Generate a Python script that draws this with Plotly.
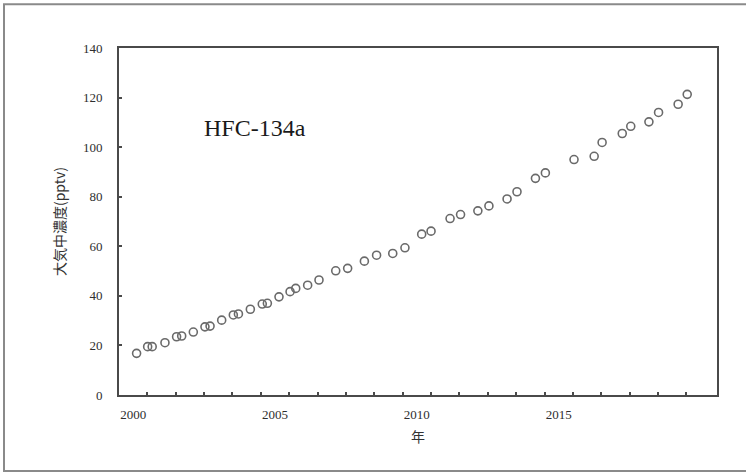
import plotly.graph_objects as go

years = [2000.12, 2000.51, 2000.67, 2001.12, 2001.53, 2001.71, 2002.12, 2002.53, 2002.71,
         2003.12, 2003.53, 2003.71, 2004.13, 2004.55, 2004.73, 2005.14, 2005.53, 2005.73,
         2006.15, 2006.55, 2007.14, 2007.56, 2008.15, 2008.58, 2009.15, 2009.58, 2010.17,
         2010.50, 2011.17, 2011.54, 2012.15, 2012.54, 2013.18, 2013.53, 2014.18, 2014.53,
         2015.54, 2016.25, 2016.53, 2017.24, 2017.54, 2018.18, 2018.52, 2019.21, 2019.53]
conc = [16.8, 19.5, 19.5, 21.1, 23.5, 23.8, 25.4, 27.5, 27.8,
        30.2, 32.3, 32.7, 34.6, 36.7, 37.0, 39.6, 41.7, 43.0,
        44.3, 46.4, 50.1, 51.1, 54.0, 56.4, 57.1, 59.4, 64.9,
        66.1, 71.2, 72.8, 74.3, 76.3, 79.1, 82.0, 87.4, 89.6,
        95.0, 96.3, 101.9, 105.5, 108.4, 110.2, 114.0, 117.3, 121.3]

x_label_vals = [2000, 2005, 2010, 2015]
x_label_text = ["2000", "2005", "2010", "2015"]
x_minor_vals = [2000.5 + i for i in range(20)]
y_tick_vals = [0, 20, 40, 60, 80, 100, 120, 140]

fig = go.Figure()
fig.add_trace(go.Scatter(
    x=years, y=conc, mode="markers",
    marker=dict(symbol="circle-open", size=8, color="#6a6a6a", line=dict(width=1.6, color="#6a6a6a")),
    showlegend=False, hoverinfo="skip",
))

axis_col = "#4a4a4a"
tick_font = dict(family="Liberation Serif, Times New Roman, serif", size=13, color="#2e2e2e")

fig.update_layout(
    width=746, height=473,
    margin=dict(l=119, r=29, t=48, b=78),
    paper_bgcolor="white", plot_bgcolor="white",
    xaxis=dict(
        range=[1999.5, 2020.58],
        tickmode="array", tickvals=x_label_vals, ticktext=x_label_text,
        ticks="", showgrid=False, zeroline=False,
        showline=True, linecolor=axis_col, linewidth=1.8, mirror=True,
        tickfont=tick_font, ticklabelstandoff=6,
        minor=dict(tickmode="array", tickvals=x_minor_vals, ticks="inside", ticklen=3,
                   tickwidth=1.5, tickcolor=axis_col, showgrid=False),
        title=dict(text="年", font=dict(family="Noto Sans CJK JP", size=14, color="#333333"), standoff=12),
    ),
    yaxis=dict(
        range=[0, 140],
        tickmode="array", tickvals=y_tick_vals,
        ticks="inside", ticklen=3, tickwidth=1.5, tickcolor=axis_col,
        showgrid=False, zeroline=False,
        showline=True, linecolor=axis_col, linewidth=1.8, mirror=True,
        tickfont=tick_font, ticklabelstandoff=12,
        title=dict(text="大気中濃度(pptv)", font=dict(family="Noto Sans CJK JP", size=14, color="#333333"), standoff=14),
    ),
    annotations=[dict(
        x=0.228, y=0.77, xref="paper", yref="paper", xanchor="center", yanchor="middle",
        text="HFC-134a", showarrow=False,
        font=dict(family="Liberation Serif, Times New Roman, serif", size=24, color="#1a1a1a"),
    )],
    shapes=[dict(
        type="rect", xref="paper", yref="paper",
        x0=-0.1923, x1=1.06, y0=-0.2188, y1=1.1258,
        line=dict(color="#8a8a8a", width=2), fillcolor="rgba(0,0,0,0)", layer="below",
    )],
)

fig.write_html("out.html", config={"displayModeBar": False},
               post_script="document.body.style.margin='0px';")
